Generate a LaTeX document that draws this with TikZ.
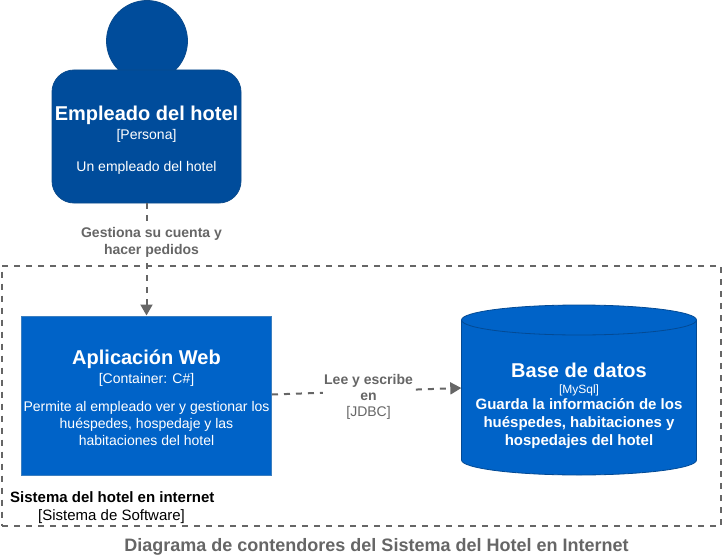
\documentclass[tikz,border=0pt]{standalone}
\usepackage{fontspec}
\setmainfont{Liberation Sans}
\usetikzlibrary{shapes.geometric,arrows.meta}
\newcommand{\fs}[2]{\fontsize{#1pt}{#2pt}\selectfont}
\definecolor{persona}{HTML}{004C9B}
\definecolor{personaline}{HTML}{0A4A8C}
\definecolor{cont}{HTML}{0063C8}
\definecolor{contline}{HTML}{3C7FC0}
\definecolor{dbline}{HTML}{034A94}
\definecolor{gris}{HTML}{666666}
\tikzset{
 x=1pt,y=-1pt,
 persona/.style={fill=persona,draw=personaline,line width=0.8pt},
 contbox/.style={fill=cont,draw=contline,line width=1pt,text=white,align=center,inner sep=0pt},
 conn/.style={draw=gris,line width=2pt,dash pattern=on 6pt off 6pt,-{Triangle[length=11pt,width=12pt,fill=gris]}},
 lbl/.style={fill=white,text=gris,align=center,inner sep=1pt,font=\fs{14}{17}},
 framebox/.style={draw=gris,line width=2pt,dash pattern=on 6pt off 6pt},
}
\begin{document}
\begin{tikzpicture}
\useasboundingbox (0,0) rectangle (722,556);
\node[rectangle,framebox,minimum width=719pt,minimum height=260pt,inner sep=0pt,anchor=north west] (frame) at (1,264.5) {};
\node[persona,circle,minimum size=81pt,inner sep=0pt] (head) at (147,41) {};
\node[persona,rectangle,rounded corners=22pt,minimum width=189pt,minimum height=133pt,inner sep=0pt] (body) at (146.5,136.5) {};
\node[text=white,align=center,inner sep=0pt,font=\fs{14}{17}] (bodytext) at (146.5,140.5)
 {\fs{20}{17}\bfseries Empleado del hotel\\[2pt]\fs{14}{17}[Persona]\\[15pt]\fs{14}{17}Un empleado del hotel};
\node[contbox,rectangle,minimum width=250pt,minimum height=159pt] (app) at (146.5,395.5) {};
\node[text=white,align=center,inner sep=0pt,font=\fs{14}{17}] (apptext) at (146.5,397.5)
 {\fs{20}{17}\bfseries Aplicación Web\\[2pt]\fs{14}{17}[Container: C\#]\\[11pt]\fs{14}{17}Permite al empleado ver y gestionar los\\\fs{14}{17}huéspedes, hospedaje y las\\\fs{14}{17}habitaciones del hotel};
\draw[fill=cont,draw=dbline,line width=0.8pt] (461.5,320) arc[x radius=117.5pt,y radius=15pt,start angle=180,end angle=0] -- (696.5,460) arc[x radius=117.5pt,y radius=15pt,start angle=0,end angle=-180] -- cycle;
\draw[draw=dbline,line width=0.8pt] (461.5,320) arc[x radius=117.5pt,y radius=15pt,start angle=180,end angle=360];
\node[rectangle,inner sep=0pt,minimum width=235pt,minimum height=170pt] (db) at (579,390) {};
\node[text=white,align=center,inner sep=0pt,font=\fs{15}{18}] (dbtext) at (579,405.8)
 {\fs{20}{18}\bfseries Base de datos\\[-2pt]\fs{12}{18}[MySql]\\[-2pt]\fs{15}{18}\bfseries Guarda la información de los\\\fs{15}{18}\bfseries huéspedes, habitaciones y\\\fs{15}{18}\bfseries hospedajes del hotel};
\draw[conn] ([yshift=1pt]app.east) -- ([yshift=2pt]db.west) node[lbl,pos=0.51,yshift=-6pt,font=\fs{14}{16}] (l2) {\bfseries Lee y escribe\\\bfseries en\\{[JDBC]}};
\draw[conn] (body.south) -- (app.north) node[lbl,pos=0.345,xshift=5pt] (l1) {\bfseries Gestiona su cuenta y\\\bfseries hacer pedidos};
\node[anchor=west,inner sep=0pt,font=\fs{15}{16}\bfseries] (sys) at (10,497) {Sistema del hotel en internet};
\node[anchor=west,inner sep=0pt,font=\fs{15}{16}] (syst) at (38,516.5) {[Sistema de Software]};
\node[text=gris,inner sep=0pt,font=\fs{18}{20}\bfseries] (title) at (376.5,546.5) {Diagrama de contendores del Sistema del Hotel en Internet};
\end{tikzpicture}
\end{document}
